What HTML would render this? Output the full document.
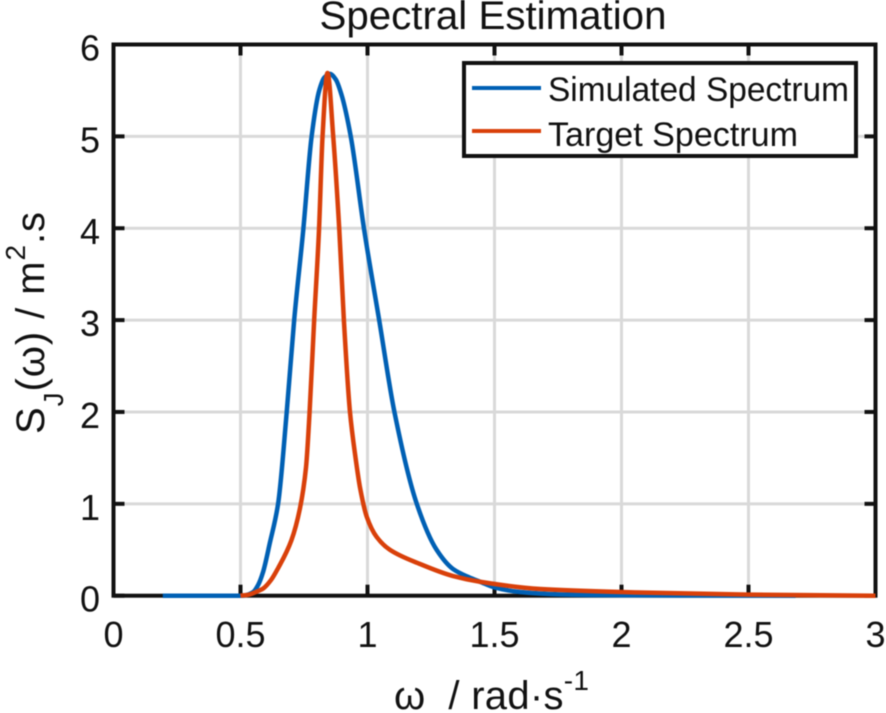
<!DOCTYPE html>
<html lang="en">
<head>
<meta charset="utf-8">
<title>Spectral Estimation</title>
<style>
html,body{margin:0;padding:0;background:#fff;width:886px;height:713px;overflow:hidden}
svg{display:block;filter:blur(0.4px)}
text{font-family:"Liberation Sans",sans-serif;fill:#111}
</style>
</head>
<body>
<svg id="chart" width="886" height="713" viewBox="0 0 886 713" xmlns="http://www.w3.org/2000/svg">
  <rect x="0" y="0" width="886" height="713" fill="#fff"/>
  <g id="grid"></g>
  <g id="axes"></g>
  <g id="series"></g>
  <text x="493" y="29" font-size="39.5" text-anchor="middle" textLength="347" lengthAdjust="spacingAndGlyphs">Spectral Estimation</text>
  <text x="394" y="709" font-size="40" textLength="195" xml:space="preserve">ω  / rad·s<tspan font-size="28" dy="-19">-1</tspan></text>
  <text transform="translate(44,434) rotate(-90)" font-size="40" textLength="222">S<tspan font-size="28" dy="19">J</tspan><tspan dy="-19">(ω) / m</tspan><tspan font-size="28" dy="-19">2</tspan><tspan dy="19">.s</tspan></text>
  <g>
    <rect x="464" y="63" width="392" height="93" fill="#fff" stroke="#111" stroke-width="4"/>
    <line x1="472" y1="88" x2="541" y2="88" stroke="#0060b4" stroke-width="4"/>
    <text x="548" y="101" font-size="34" textLength="301" lengthAdjust="spacingAndGlyphs">Simulated Spectrum</text>
    <line x1="472" y1="131" x2="541" y2="131" stroke="#d9400a" stroke-width="4"/>
    <text x="548" y="146" font-size="34" textLength="250" lengthAdjust="spacingAndGlyphs">Target Spectrum</text>
  </g>
</svg>
<script>
const xTicks = [0, 0.5, 1, 1.5, 2, 2.5, 3];
const xTickLabels = ['0', '0.5', '1', '1.5', '2', '2.5', '3'];
const yTicks = [0, 1, 2, 3, 4, 5, 6];
const yTickLabels = ['0', '1', '2', '3', '4', '5', '6'];
const simulatedOmega = [0.194, 0.5, 0.52, 0.55, 0.57, 0.588, 0.616, 0.648, 0.682, 0.7113, 0.747, 0.78, 0.81, 0.83, 0.852, 0.875, 0.898, 0.934, 0.987, 1.046, 1.106, 1.194, 1.272, 1.337, 1.4, 1.443, 1.5, 1.6, 1.75, 2, 2.3, 2.685];
const simulatedS = [0, 0, 0.005, 0.04, 0.12, 0.25, 0.58, 1, 2, 3, 3.98, 5, 5.5, 5.64, 5.68, 5.62, 5.45, 5, 3.98, 3, 2, 1, 0.5, 0.29, 0.2, 0.152, 0.09, 0.04, 0.015, 0.005, 0.002, 0];
const targetOmega = [0.5, 0.53, 0.56, 0.59, 0.62, 0.648, 0.7, 0.734, 0.758, 0.772, 0.79, 0.809, 0.823, 0.8425, 0.865, 0.889, 0.907, 0.931, 0.953, 0.971, 0.997, 1.036, 1.088, 1.207, 1.337, 1.443, 1.68, 2, 2.5, 3];
const targetS = [0, 0.01, 0.04, 0.08, 0.17, 0.3, 0.6, 0.95, 1.4, 2, 3, 3.98, 5, 5.69, 5, 3.98, 3, 2, 1.5, 1.17, 0.86, 0.64, 0.5, 0.345, 0.214, 0.152, 0.073, 0.04, 0.012, 0];

const NS = 'http://www.w3.org/2000/svg';
const plotLeft = 113.5, plotRight = 875.5, plotTop = 44.5, plotBottom = 595.7;
const xScale = v => plotLeft + (v - 0) / (3 - 0) * (plotRight - plotLeft);
const yScale = v => plotBottom - (v - 0) / (6 - 0) * (plotBottom - plotTop);

function make(tag, attrs, parent) {
  const el = document.createElementNS(NS, tag);
  for (const k in attrs) el.setAttribute(k, attrs[k]);
  parent.appendChild(el);
  return el;
}

// Monotone (PCHIP) cubic through the data points, in pixel space
function curvePath(xs, ys) {
  const px = xs.map(xScale), py = ys.map(yScale), n = px.length;
  const h = [], s = [];
  for (let i = 0; i < n - 1; i++) {
    h.push(px[i + 1] - px[i]);
    s.push((py[i + 1] - py[i]) / h[i]);
  }
  const m = new Array(n).fill(0);
  m[0] = s[0];
  m[n - 1] = s[n - 2];
  for (let i = 1; i < n - 1; i++) {
    if (s[i - 1] * s[i] > 0) {
      const w1 = 2 * h[i] + h[i - 1], w2 = h[i] + 2 * h[i - 1];
      m[i] = (w1 + w2) / (w1 / s[i - 1] + w2 / s[i]);
    }
  }
  let d = 'M' + px[0].toFixed(2) + ' ' + py[0].toFixed(2);
  for (let i = 0; i < n - 1; i++) {
    const c1x = px[i] + h[i] / 3, c1y = py[i] + m[i] * h[i] / 3;
    const c2x = px[i + 1] - h[i] / 3, c2y = py[i + 1] - m[i + 1] * h[i] / 3;
    d += 'C' + c1x.toFixed(2) + ' ' + c1y.toFixed(2) + ' ' + c2x.toFixed(2) + ' ' + c2y.toFixed(2) + ' ' + px[i + 1].toFixed(2) + ' ' + py[i + 1].toFixed(2);
  }
  return d;
}

const grid = document.getElementById('grid');
const axes = document.getElementById('axes');
const series = document.getElementById('series');

xTicks.forEach((t, i) => {
  if (t > 0 && t < 3) {
    const g = make('line', {x1: xScale(t), x2: xScale(t), y1: plotTop, y2: plotBottom, stroke: '#d9d9d9', 'stroke-width': 3}, grid);
    
    
  }
});
yTicks.forEach((t, i) => {
  if (t > 0 && t < 6) {
    const g = make('line', {x1: plotLeft, x2: plotRight, y1: yScale(t), y2: yScale(t), stroke: '#d9d9d9', 'stroke-width': 3}, grid);
    
    
  }
});

const frame = make('rect', {x: plotLeft, y: plotTop, width: plotRight - plotLeft, height: plotBottom - plotTop, fill: 'none', stroke: '#111', 'stroke-width': 4}, axes);



xTicks.forEach((t, i) => {
  const x = xScale(t);
  [[plotBottom, plotBottom - 11], [plotTop, plotTop + 11]].forEach(pair => {
    const tick = make('line', {x1: x, x2: x, y1: pair[0], y2: pair[1], stroke: '#111', 'stroke-width': 4}, axes);
    
    
  });
  const label = make('text', {x: x, y: 647, 'font-size': 36, 'text-anchor': 'middle'}, axes);
  label.textContent = xTickLabels[i];
  
  
});
yTicks.forEach((t, i) => {
  const y = yScale(t);
  [[plotLeft, plotLeft + 11], [plotRight, plotRight - 11]].forEach(pair => {
    const tick = make('line', {x1: pair[0], x2: pair[1], y1: y, y2: y, stroke: '#111', 'stroke-width': 4}, axes);
    
    
  });
  const label = make('text', {x: 100, y: y + 16, 'font-size': 36, 'text-anchor': 'end'}, axes);
  label.textContent = yTickLabels[i];
  
  
});

const simLine = make('path', {d: curvePath(simulatedOmega, simulatedS), fill: 'none', stroke: '#0060b4', 'stroke-width': 4.5, 'stroke-linejoin': 'round'}, series);


const targetLine = make('path', {d: curvePath(targetOmega, targetS), fill: 'none', stroke: '#d9400a', 'stroke-width': 4.5, 'stroke-linejoin': 'round'}, series);


</script>
</body>
</html>
